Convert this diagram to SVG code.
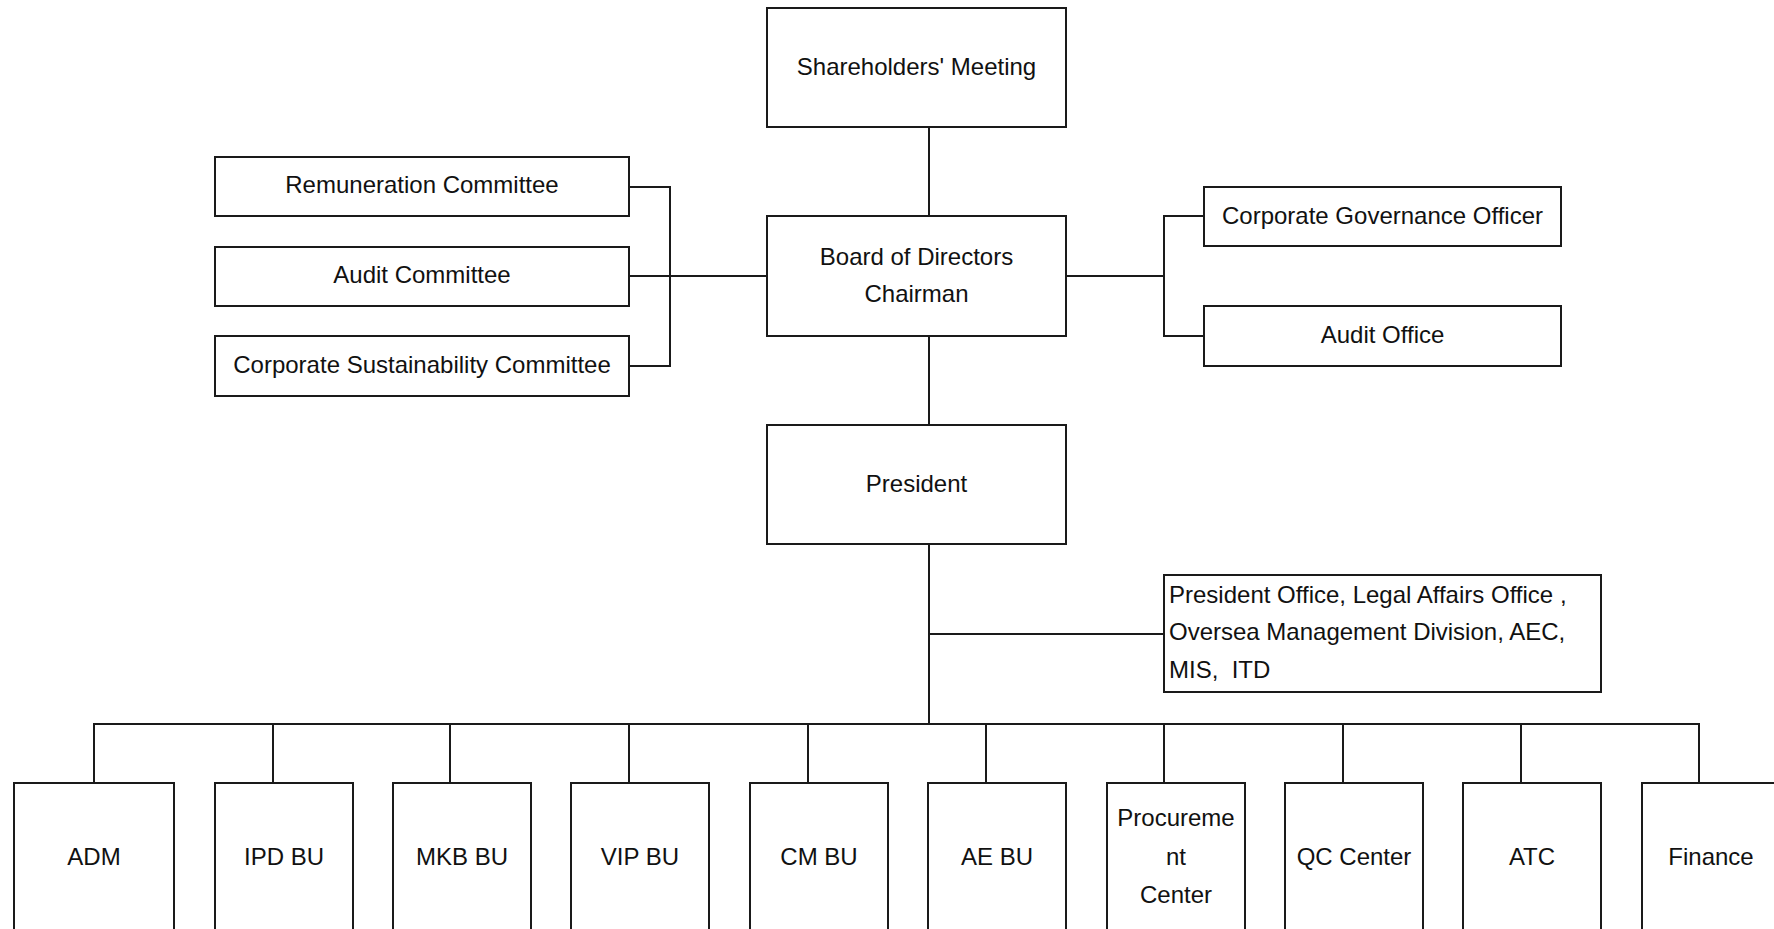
<svg xmlns="http://www.w3.org/2000/svg" width="1774" height="929" viewBox="0 0 1774 929">
<style>
.box{fill:#fff;stroke:#1a1a1a;stroke-width:2}
.ln{fill:none;stroke:#1a1a1a;stroke-width:2}
text{font-family:"Liberation Sans",Arial,sans-serif;font-size:24px;fill:#111}
.c{text-anchor:middle}
.pre{white-space:pre}
</style>
<rect width="1774" height="929" fill="#fff"/>
<g id="connectors">
<path class="ln" d="M929 127V216M929 336V425M929 544V724M929 634H1164"/>
<path class="ln" d="M629 187H670V366H629M629 276H767"/>
<path class="ln" d="M1066 276H1164M1204 216H1164V336H1204"/>
<path class="ln" d="M94 783V724H1699V783M273 724V783M450 724V783M629 724V783M808 724V783M986 724V783M1164 724V783M1343 724V783M1521 724V783"/>
</g>
<g id="shareholders"><rect class="box" x="767" y="8" width="299" height="119"/><text class="c" x="916.5" y="75">Shareholders' Meeting</text></g>
<g id="board"><rect class="box" x="767" y="216" width="299" height="120"/><text class="c" x="916.5" y="265">Board of Directors</text><text class="c" x="916.5" y="302">Chairman</text></g>
<g id="president"><rect class="box" x="767" y="425" width="299" height="119"/><text class="c" x="916.5" y="492">President</text></g>
<g id="remuneration"><rect class="box" x="215" y="157" width="414" height="59"/><text class="c" x="422" y="193">Remuneration Committee</text></g>
<g id="audit-committee"><rect class="box" x="215" y="247" width="414" height="59"/><text class="c" x="422" y="283">Audit Committee</text></g>
<g id="csc"><rect class="box" x="215" y="336" width="414" height="60"/><text class="c" x="422" y="373">Corporate Sustainability Committee</text></g>
<g id="cgo"><rect class="box" x="1204" y="187" width="357" height="59"/><text class="c" x="1382.5" y="224">Corporate Governance Officer</text></g>
<g id="audit-office"><rect class="box" x="1204" y="306" width="357" height="60"/><text class="c" x="1382.5" y="343">Audit Office</text></g>
<g id="president-office"><rect class="box" x="1164" y="575" width="437" height="117"/><text x="1169" y="603">President Office, Legal Affairs Office ,</text><text x="1169" y="640">Oversea Management Division, AEC,</text><text class="pre" x="1169" y="678" xml:space="preserve">MIS,  ITD</text></g>
<g id="adm"><rect class="box" x="14" y="783" width="160" height="160"/><text class="c" x="94" y="865">ADM</text></g>
<g id="ipd"><rect class="box" x="215" y="783" width="138" height="160"/><text class="c" x="284" y="865">IPD BU</text></g>
<g id="mkb"><rect class="box" x="393" y="783" width="138" height="160"/><text class="c" x="462" y="865">MKB BU</text></g>
<g id="vip"><rect class="box" x="571" y="783" width="138" height="160"/><text class="c" x="640" y="865">VIP BU</text></g>
<g id="cm"><rect class="box" x="750" y="783" width="138" height="160"/><text class="c" x="819" y="865">CM BU</text></g>
<g id="ae"><rect class="box" x="928" y="783" width="138" height="160"/><text class="c" x="997" y="865">AE BU</text></g>
<g id="procurement"><rect class="box" x="1107" y="783" width="138" height="160"/><text class="c" x="1176" y="826">Procureme</text><text class="c" x="1176" y="865">nt</text><text class="c" x="1176" y="903">Center</text></g>
<g id="qc"><rect class="box" x="1285" y="783" width="138" height="160"/><text class="c" x="1354" y="865">QC Center</text></g>
<g id="atc"><rect class="box" x="1463" y="783" width="138" height="160"/><text class="c" x="1532" y="865">ATC</text></g>
<g id="finance"><rect class="box" x="1642" y="783" width="160" height="160"/><text class="c" x="1711" y="865">Finance</text></g>
</svg>
